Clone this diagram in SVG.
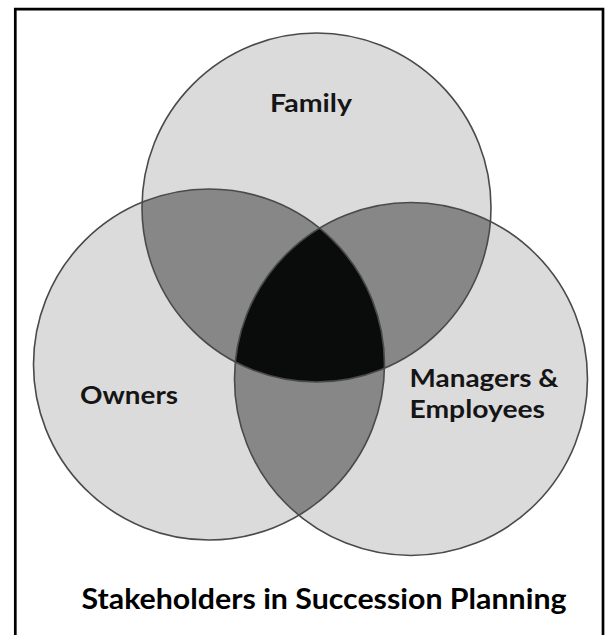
<svg xmlns="http://www.w3.org/2000/svg" width="607" height="635" viewBox="0 0 607 635">
<style>
.set{fill:#dcdbdc}
.pair{fill:#878787}
.core{fill:#0a0b0b}
.ring{fill:none;stroke:#4a4a4a;stroke-width:1.6}
.lbl{font-family:Lato,"Open Sans","Liberation Sans",sans-serif;font-weight:bold;fill:#151515;font-size:24px}
.title{font-family:Lato,"Open Sans","Liberation Sans",sans-serif;font-weight:bold;fill:#000;font-size:28px}
</style>
<defs>
<clipPath id="cF"><circle cx="316.5" cy="207.5" r="174.5"/></clipPath>
<clipPath id="cO"><circle cx="209" cy="364.5" r="175.5"/></clipPath>
<clipPath id="cM"><circle cx="411" cy="379" r="176.5"/></clipPath>
</defs>
<rect x="0" y="0" width="607" height="635" fill="#fff"/>
<path d="M15.3 640 V9.2 H603 V640" fill="none" stroke="#000" stroke-width="2.7"/>
<g id="family"><circle class="set" cx="316.5" cy="207.5" r="174.5"/></g>
<g id="owners"><circle class="set" cx="209" cy="364.5" r="175.5"/></g>
<g id="managers"><circle class="set" cx="411" cy="379" r="176.5"/></g>
<g id="overlaps">
<g clip-path="url(#cF)"><circle class="pair" cx="209" cy="364.5" r="175.5"/><circle class="pair" cx="411" cy="379" r="176.5"/></g>
<g clip-path="url(#cO)"><circle class="pair" cx="411" cy="379" r="176.5"/></g>
<g clip-path="url(#cF)"><g clip-path="url(#cO)"><circle class="core" cx="411" cy="379" r="176.5"/></g></g>
</g>
<g id="outlines">
<circle class="ring" cx="316.5" cy="207.5" r="174.5"/>
<circle class="ring" cx="209" cy="364.5" r="175.5"/>
<circle class="ring" cx="411" cy="379" r="176.5"/>
</g>
<g id="labels">
<text class="lbl" x="270" y="112" textLength="82" lengthAdjust="spacingAndGlyphs">Family</text>
<text class="lbl" x="80" y="404" textLength="98" lengthAdjust="spacingAndGlyphs">Owners</text>
<text class="lbl" x="409.5" y="387" textLength="149" lengthAdjust="spacingAndGlyphs">Managers &amp;</text>
<text class="lbl" x="409.5" y="418" textLength="135.5" lengthAdjust="spacingAndGlyphs">Employees</text>
<text class="title" x="81.5" y="608.5" textLength="485" lengthAdjust="spacingAndGlyphs">Stakeholders in Succession Planning</text>
</g>
</svg>
